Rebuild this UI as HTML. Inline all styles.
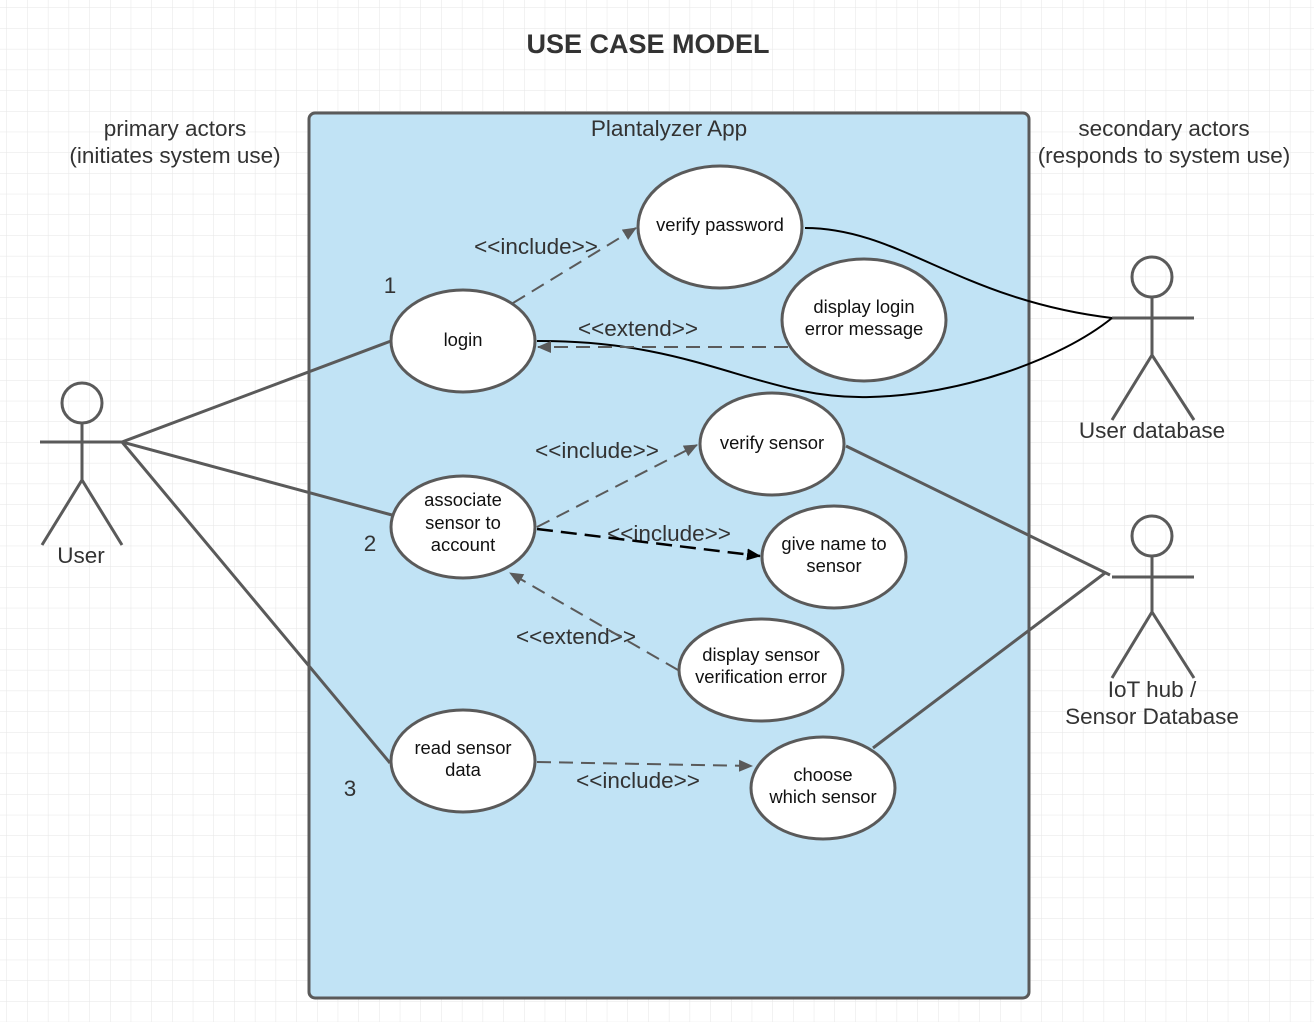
<!DOCTYPE html>
<html><head><style>
html,body{margin:0;padding:0;background:#fff;}
svg{display:block;}
text{font-family:"Liberation Sans",sans-serif;}
</style></head><body>
<svg width="1314" height="1022" viewBox="0 0 1314 1022" xmlns="http://www.w3.org/2000/svg">
<defs>
<pattern id="g" width="20.7" height="20.7" patternUnits="userSpaceOnUse" x="7" y="8">
<path d="M20.7 0V20.7H0" fill="none" stroke="#e6e6e6" stroke-width="1"/>
</pattern>
<marker id="a" markerWidth="14" markerHeight="14" refX="13" refY="6" orient="auto" markerUnits="userSpaceOnUse" viewBox="0 0 14 12"><path d="M0,0L14,6L0,12z" fill="#5a5a5a"/></marker>
<marker id="ab" markerWidth="14" markerHeight="14" refX="13" refY="6" orient="auto" markerUnits="userSpaceOnUse" viewBox="0 0 14 12"><path d="M0,0L14,6L0,12z" fill="#000"/></marker>
</defs>
<rect width="1314" height="1022" fill="url(#g)"/>
<text x="648" y="53" font-size="27" font-weight="bold" text-anchor="middle" fill="#333">USE CASE MODEL</text>
<rect x="309" y="113" width="720" height="885" rx="6" fill="#c1e3f5" stroke="#5a5a5a" stroke-width="3"/>
<g font-size="22.5" fill="#333" text-anchor="middle">
<text x="669" y="136">Plantalyzer App</text>
<text x="175" y="136">primary actors</text>
<text x="175" y="163">(initiates system use)</text>
<text x="1164" y="136">secondary actors</text>
<text x="1164" y="163">(responds to system use)</text>
<text x="81" y="563">User</text>
<text x="1152" y="438">User database</text>
<text x="1152" y="697">IoT hub /</text>
<text x="1152" y="724">Sensor Database</text>
<text x="390" y="293">1</text>
<text x="370" y="551">2</text>
<text x="350" y="796">3</text>
<text x="536" y="254">&lt;&lt;include&gt;&gt;</text>
<text x="638" y="336">&lt;&lt;extend&gt;&gt;</text>
<text x="597" y="458">&lt;&lt;include&gt;&gt;</text>
<text x="669" y="541">&lt;&lt;include&gt;&gt;</text>
<text x="576" y="644">&lt;&lt;extend&gt;&gt;</text>
<text x="638" y="788">&lt;&lt;include&gt;&gt;</text>
</g>
<g stroke="#5a5a5a" stroke-width="3" fill="none">
<circle cx="82" cy="403" r="20"/><path d="M82 423V480M40 442H124M42 545L82 480L122 545"/>
<circle cx="1152" cy="277" r="20"/><path d="M1152 297V355M1112 318H1194M1112 420L1152 355L1194 420"/>
<circle cx="1152" cy="536" r="20"/><path d="M1152 556V612M1112 577H1194M1112 678L1152 612L1194 678"/>
<path d="M122 442L391 341M122 442L392 515M122 442L390 763"/>
<path d="M846 446L1110 575M873 748L1105 573"/>
</g>
<g stroke="#000" stroke-width="2" fill="none">
<path d="M805 228C900 228 960 300 1112 318"/>
<path d="M537 341C700 340 760 400 870 397C960 395 1060 360 1112 318"/>
</g>
<g stroke="#5a5a5a" stroke-width="2" fill="none" stroke-dasharray="14,8">
<path d="M513 303L636 228" marker-end="url(#a)"/>
<path d="M788 347L538 347" marker-end="url(#a)"/>
<path d="M537 527L697 445" marker-end="url(#a)"/>
<path d="M678 670L510 573" marker-end="url(#a)"/>
<path d="M537 762L752 766" marker-end="url(#a)"/>
</g>
<path d="M537 529L760 556" stroke="#000" stroke-width="2.5" stroke-dasharray="16,8" fill="none" marker-end="url(#ab)"/>
<g fill="#fff" stroke="#5a5a5a" stroke-width="3">
<ellipse cx="720" cy="227" rx="82" ry="61"/>
<ellipse cx="864" cy="320" rx="82" ry="61"/>
<ellipse cx="463" cy="341" rx="72" ry="51"/>
<ellipse cx="772" cy="444" rx="72" ry="51"/>
<ellipse cx="463" cy="527" rx="72" ry="51"/>
<ellipse cx="834" cy="557" rx="72" ry="51"/>
<ellipse cx="761" cy="670" rx="82" ry="51"/>
<ellipse cx="463" cy="761" rx="72" ry="51"/>
<ellipse cx="823" cy="788" rx="72" ry="51"/>
</g>
<g font-size="18.4" fill="#111" text-anchor="middle">
<text x="720" y="231">verify password</text>
<text x="864" y="313">display login</text><text x="864" y="335">error message</text>
<text x="463" y="346">login</text>
<text x="772" y="449">verify sensor</text>
<text x="463" y="506">associate</text><text x="463" y="529">sensor to</text><text x="463" y="551">account</text>
<text x="834" y="550">give name to</text><text x="834" y="572">sensor</text>
<text x="761" y="661">display sensor</text><text x="761" y="683">verification error</text>
<text x="463" y="754">read sensor</text><text x="463" y="776">data</text>
<text x="823" y="781">choose</text><text x="823" y="803">which sensor</text>
</g>
</svg>
</body></html>
